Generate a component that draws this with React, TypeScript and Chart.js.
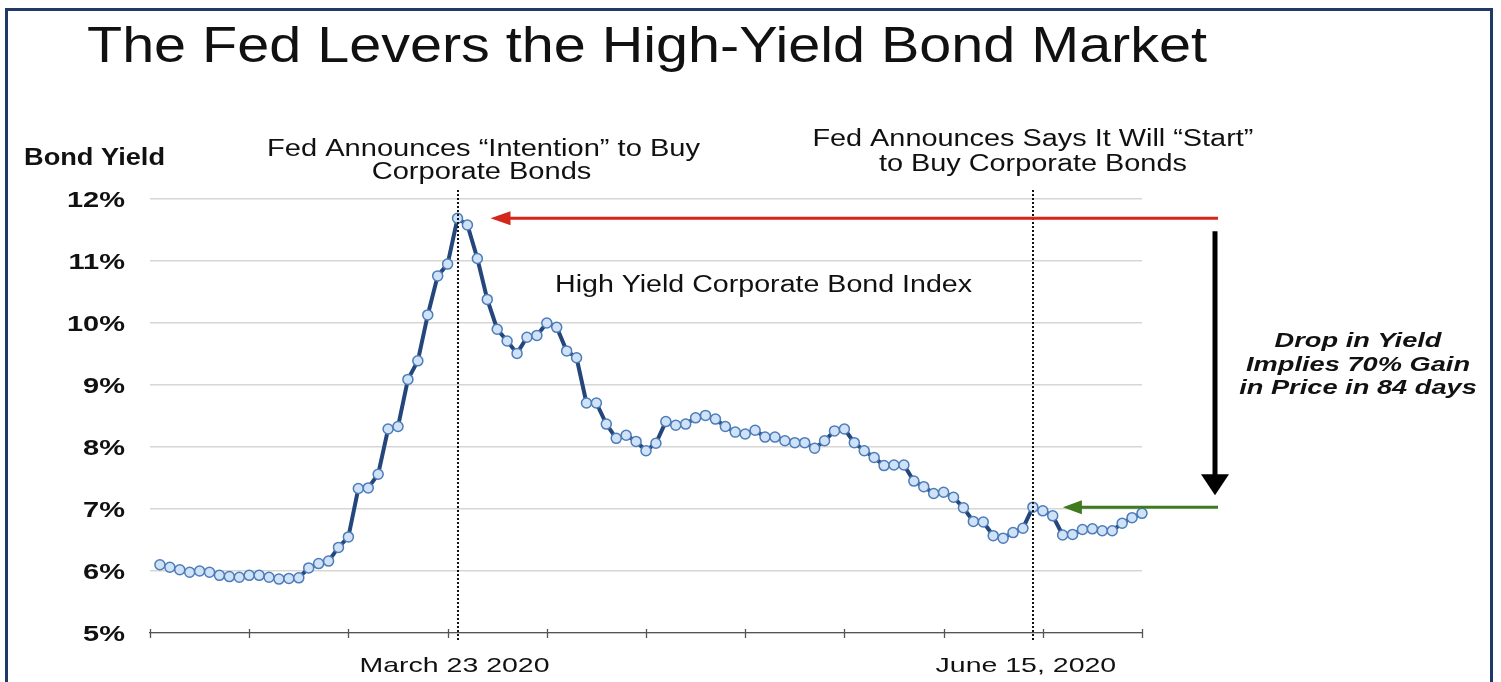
import React, { useEffect, useRef } from "react";
import { Chart, registerables } from "chart.js";

Chart.register(...registerables);

// ---- Data ----
const yields: number[] = [
  6.10, 6.06, 6.02, 5.98, 6.00, 5.98, 5.93, 5.91, 5.90, 5.93,
  5.93, 5.90, 5.87, 5.88, 5.89, 6.05, 6.12, 6.16, 6.38, 6.55,
  7.33, 7.34, 7.56, 8.29, 8.33, 9.09, 9.39, 10.13, 10.76, 10.95,
  11.69, 11.58, 11.04, 10.38, 9.90, 9.71, 9.51, 9.77, 9.80, 10.00,
  9.93, 9.55, 9.44, 8.71, 8.71, 8.37, 8.14, 8.19, 8.09, 7.94,
  8.06, 8.41, 8.35, 8.37, 8.47, 8.51, 8.45, 8.33, 8.24, 8.21,
  8.27, 8.16, 8.16, 8.10, 8.07, 8.07, 7.98, 8.10, 8.26, 8.29,
  8.07, 7.94, 7.83, 7.70, 7.71, 7.71, 7.45, 7.36, 7.25, 7.27,
  7.19, 7.02, 6.80, 6.79, 6.57, 6.53, 6.62, 6.69, 7.03, 6.97,
  6.89, 6.58, 6.59, 6.67, 6.68, 6.65, 6.65, 6.77, 6.86, 6.93,
];
const tradingDays: number[] = yields.map((_, i) => i + 1);
const xRange = [0, 100];
const xTickStep = 10;
const yTicks: number[] = [5, 6, 7, 8, 9, 10, 11, 12];
const eventDays: number[] = [31, 89];
const eventDateLabels: string[] = ["March 23 2020", "June 15, 2020"];
const eventNotes: string[][] = [
  ["Fed Announces \u201CIntention\u201D to Buy", "Corporate Bonds"],
  ["Fed Announces Says It Will \u201CStart\u201D", "to Buy Corporate Bonds"],
];
const titleText = "The Fed Levers the High-Yield Bond Market";
const yAxisTitle = "Bond Yield";
const seriesLabel = "High Yield Corporate Bond Index";
const dropNote: string[] = ["Drop in Yield", "Implies 70% Gain", "in Price in 84 days"];

const W = 1501;
const H = 682;
const SANS = '"Liberation Sans", Arial, Helvetica, sans-serif';

function fitText(
  ctx: CanvasRenderingContext2D,
  text: string,
  x: number,
  baseline: number,
  font: string,
  sx: number,
  align: CanvasTextAlign
) {
  ctx.save();
  ctx.font = font;
  ctx.textAlign = align;
  ctx.textBaseline = "alphabetic";
  ctx.translate(x, baseline);
  ctx.scale(sx, 1);
  ctx.fillText(text, 0, 0);
  ctx.restore();
}

function scaleFor(ctx: CanvasRenderingContext2D, text: string, font: string, width: number) {
  ctx.save();
  ctx.font = font;
  const w = ctx.measureText(text).width;
  ctx.restore();
  return width / w;
}

function arrowHead(ctx: CanvasRenderingContext2D, tipX: number, tipY: number, dir: "left" | "down", len: number, half: number) {
  ctx.beginPath();
  if (dir === "left") {
    ctx.moveTo(tipX, tipY);
    ctx.lineTo(tipX + len, tipY - half);
    ctx.lineTo(tipX + len, tipY + half);
  } else {
    ctx.moveTo(tipX, tipY);
    ctx.lineTo(tipX - half, tipY - len);
    ctx.lineTo(tipX + half, tipY - len);
  }
  ctx.closePath();
  ctx.fill();
}

const annotationPlugin = {
  id: "fedAnnotations",
  afterDatasetsDraw(chart: any) {
    const ctx: CanvasRenderingContext2D = chart.ctx;
    const xs = chart.scales.x;
    const ys = chart.scales.y;
    // dotted event lines
    ctx.save();
    ctx.strokeStyle = "#111";
    ctx.lineWidth = 2;
    ctx.setLineDash([2, 2]);
    eventDays.forEach((d) => {
      const px = Math.round(xs.getPixelForValue(d));
      ctx.beginPath();
      ctx.moveTo(px, ys.top - 9);
      ctx.lineTo(px, ys.bottom + 8);
      ctx.stroke();
    });
    ctx.restore();
  },
  afterDraw(chart: any) {
    const ctx: CanvasRenderingContext2D = chart.ctx;
    const xs = chart.scales.x;
    const ys = chart.scales.y;
    ctx.save();

    // frame
    ctx.strokeStyle = "#1f3a68";
    ctx.lineWidth = 3;
    ctx.strokeRect(6.5, 9.5, 1485, 720);

    ctx.fillStyle = "#111";
    // title
    const tFont = `50px ${SANS}`;
    fitText(ctx, titleText, 87, 62, tFont, scaleFor(ctx, titleText, tFont, 1120), "left");

    // y axis title
    const byFont = `bold 23px ${SANS}`;
    fitText(ctx, yAxisTitle, 24, 165, byFont, scaleFor(ctx, yAxisTitle, byFont, 141), "left");

    // y tick labels
    const ytFont = `bold 22px ${SANS}`;
    const ysx = scaleFor(ctx, "12%", ytFont, 58);
    yTicks.forEach((v) => {
      const py = ys.getPixelForValue(v);
      fitText(ctx, `${v}%`, 125, py + 8, ytFont, ysx, "right");
    });

    // x axis tick marks
    ctx.strokeStyle = "#555";
    ctx.lineWidth = 1.3;
    for (let v = xRange[0]; v <= xRange[1]; v += xTickStep) {
      const px = Math.round(xs.getPixelForValue(v)) + 0.5;
      ctx.beginPath();
      ctx.moveTo(px, ys.bottom - 4);
      ctx.lineTo(px, ys.bottom + 5);
      ctx.stroke();
    }

    // x date labels
    const xlFont = `21px ${SANS}`;
    const xsx = scaleFor(ctx, eventDateLabels[0], xlFont, 190);
    eventDays.forEach((d, i) => {
      const px = xs.getPixelForValue(d);
      fitText(ctx, eventDateLabels[i], px - 3 - i * 4, 672, xlFont, xsx, "center");
    });

    // event notes
    const nFont = `23px ${SANS}`;
    const n1sx = scaleFor(ctx, eventNotes[0][0], nFont, 433);
    const p1 = xs.getPixelForValue(eventDays[0]);
    fitText(ctx, eventNotes[0][0], p1 + 26, 156, nFont, n1sx, "center");
    fitText(ctx, eventNotes[0][1], p1 + 24, 179, nFont, n1sx, "center");
    const n2sx = scaleFor(ctx, eventNotes[1][0], nFont, 441);
    const p2 = xs.getPixelForValue(eventDays[1]);
    fitText(ctx, eventNotes[1][0], p2, 146, nFont, n2sx, "center");
    fitText(ctx, eventNotes[1][1], p2, 171, nFont, n2sx, "center");

    // series label
    fitText(ctx, seriesLabel, 555, 292, nFont, scaleFor(ctx, seriesLabel, nFont, 417), "left");

    // drop note
    const dFont = `italic bold 21px ${SANS}`;
    const dsx = scaleFor(ctx, dropNote[0], dFont, 167);
    dropNote.forEach((t, i) => {
      fitText(ctx, t, 1358, 347 + i * 23.5, dFont, dsx, "center");
    });

    // arrows
    const peak = Math.max(...yields);
    const peakIdx = yields.indexOf(peak);
    const redY = ys.getPixelForValue(peak);
    const peakX = xs.getPixelForValue(tradingDays[peakIdx]);
    const endX = xs.right + 76;
    ctx.strokeStyle = "#d4261b";
    ctx.fillStyle = "#d4261b";
    ctx.lineWidth = 3;
    ctx.beginPath();
    ctx.moveTo(endX, redY);
    ctx.lineTo(peakX + 50, redY);
    ctx.stroke();
    arrowHead(ctx, peakX + 33, redY, "left", 20, 7);

    const gIdx = tradingDays.indexOf(eventDays[1]);
    const greenY = ys.getPixelForValue(yields[gIdx]);
    const gX = xs.getPixelForValue(eventDays[1]);
    ctx.strokeStyle = "#3f7a1e";
    ctx.fillStyle = "#3f7a1e";
    ctx.beginPath();
    ctx.moveTo(endX, greenY);
    ctx.lineTo(gX + 45, greenY);
    ctx.stroke();
    arrowHead(ctx, gX + 30, greenY, "left", 19, 7);

    // black drop arrow
    const bx = endX - 3;
    ctx.strokeStyle = "#000";
    ctx.fillStyle = "#000";
    ctx.lineWidth = 5;
    ctx.beginPath();
    ctx.moveTo(bx, redY + 13);
    ctx.lineTo(bx, greenY - 30);
    ctx.stroke();
    arrowHead(ctx, bx, greenY - 12, "down", 21, 14);

    ctx.restore();
  },
};

export default function App() {
  const canvasRef = useRef<HTMLCanvasElement | null>(null);

  useEffect(() => {
    document.body.style.margin = "0";
    const canvas = canvasRef.current;
    if (!canvas) return;
    const chart = new Chart(canvas, {
      type: "line",
      data: {
        datasets: [
          {
            label: seriesLabel,
            data: tradingDays.map((d, i) => ({ x: d, y: yields[i] })),
            borderColor: "#24467a",
            borderWidth: 4,
            tension: 0,
            clip: false,
            pointRadius: 5,
            pointBorderWidth: 1.5,
            pointBackgroundColor: "#cfe2f7",
            pointBorderColor: "#4d7cb8",
          },
        ],
      },
      options: {
        animation: false,
        responsive: false,
        devicePixelRatio: 1,
        events: [],
        layout: { padding: { left: 0, right: W - 1142, top: 199, bottom: 0 } },
        plugins: {
          legend: { display: false },
          title: { display: false },
          tooltip: { enabled: false },
        },
        scales: {
          x: {
            type: "linear",
            min: xRange[0],
            max: xRange[1],
            ticks: { display: false, stepSize: xTickStep },
            grid: { display: false, drawTicks: false },
            border: { display: true, color: "#555", width: 1.3 },
            afterFit: (s: any) => {
              s.height = H - 633;
            },
          },
          y: {
            min: yTicks[0],
            max: yTicks[yTicks.length - 1],
            ticks: { display: false, stepSize: 1 },
            grid: { color: "#d6d6d6", lineWidth: 1.5, drawTicks: false },
            border: { display: false },
            afterFit: (s: any) => {
              s.width = 150;
            },
          },
        },
      },
      plugins: [annotationPlugin],
    });
    return () => chart.destroy();
  }, []);

  return (
    <div style={{ position: "absolute", left: 0, top: 0, width: W, height: H, background: "#fff" }}>
      <canvas ref={canvasRef} width={W} height={H} style={{ display: "block" }} />
    </div>
  );
}
